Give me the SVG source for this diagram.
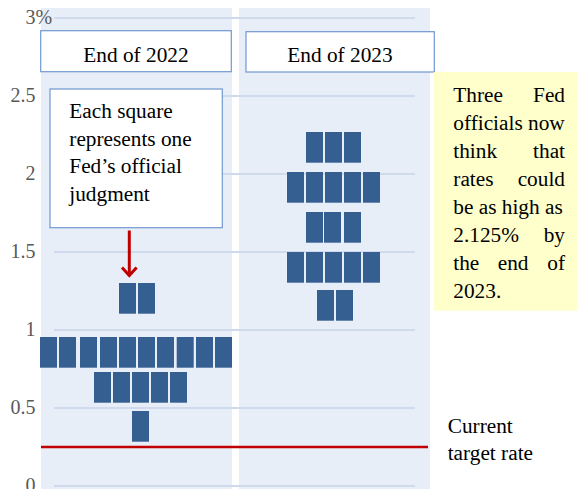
<svg xmlns="http://www.w3.org/2000/svg" width="577" height="489" viewBox="0 0 577 489">
<style>
.panel{fill:#e8eef7}
.grid{stroke:#cfdbec;stroke-width:2;fill:none}
.ax{font-family:'Liberation Serif','DejaVu Serif',serif;font-size:20px;fill:#595959;text-anchor:end}
.t{font-family:'Liberation Serif','DejaVu Serif',serif;font-size:21.3px;fill:#000}
.box{fill:#fff;stroke:#7098cf;stroke-width:1.2}
.sq{fill:#355f91}
.red{stroke:#c00000;fill:none}
</style>
<rect width="577" height="489" fill="#fff"/>
<g id="panels">
<rect class="panel" x="41" y="8" width="191" height="481"/>
<rect class="panel" x="239" y="8" width="191" height="481"/>
</g>
<g id="gridlines">
<line class="grid" x1="54" y1="18" x2="415" y2="18"/>
<line class="grid" x1="54" y1="96" x2="415" y2="96"/>
<line class="grid" x1="54" y1="174" x2="415" y2="174"/>
<line class="grid" x1="54" y1="252" x2="415" y2="252"/>
<line class="grid" x1="54" y1="330" x2="415" y2="330"/>
<line class="grid" x1="54" y1="408" x2="415" y2="408"/>
<line class="grid" x1="54" y1="486" x2="415" y2="486"/>
</g>
<g id="axis-labels" font-family="Liberation Serif, serif">
<text class="ax" x="25.5" y="24" style="text-anchor:start">3%</text>
<text class="ax" x="35.5" y="102">2.5</text>
<text class="ax" x="35.5" y="180">2</text>
<text class="ax" x="35.5" y="258">1.5</text>
<text class="ax" x="35.5" y="336">1</text>
<text class="ax" x="35.5" y="414">0.5</text>
<text class="ax" x="35.5" y="492">0</text>
</g>
<g id="header-2022">
<rect class="box" x="40.7" y="30.7" width="190.6" height="41"/>
<text class="t" x="136" y="61.5" text-anchor="middle">End of 2022</text>
</g>
<g id="header-2023">
<rect class="box" x="246" y="31.7" width="188.3" height="40.3"/>
<text class="t" x="340" y="62" text-anchor="middle">End of 2023</text>
</g>
<g id="dots-2022">
<rect class="sq" x="119" y="283" width="17" height="30.7"/>
<rect class="sq" x="138" y="283" width="17" height="30.7"/>
<rect class="sq" x="40" y="337" width="17" height="30.7"/>
<rect class="sq" x="59" y="337" width="17" height="30.7"/>
<rect class="sq" x="80" y="337" width="17" height="30.7"/>
<rect class="sq" x="100" y="337" width="17" height="30.7"/>
<rect class="sq" x="119" y="337" width="17" height="30.7"/>
<rect class="sq" x="138" y="337" width="17" height="30.7"/>
<rect class="sq" x="157" y="337" width="17" height="30.7"/>
<rect class="sq" x="176.7" y="337" width="17" height="30.7"/>
<rect class="sq" x="196" y="337" width="17" height="30.7"/>
<rect class="sq" x="215" y="337" width="17" height="30.7"/>
<rect class="sq" x="94" y="372" width="17" height="30.7"/>
<rect class="sq" x="113" y="372" width="17" height="30.7"/>
<rect class="sq" x="132" y="372" width="17" height="30.7"/>
<rect class="sq" x="151" y="372" width="17" height="30.7"/>
<rect class="sq" x="170" y="372" width="17" height="30.7"/>
<rect class="sq" x="132" y="411" width="17" height="30.7"/>
</g>
<g id="dots-2023">
<rect class="sq" x="306" y="132" width="17" height="30.7"/>
<rect class="sq" x="325" y="132" width="17" height="30.7"/>
<rect class="sq" x="344" y="132" width="17" height="30.7"/>
<rect class="sq" x="287" y="172" width="17" height="30.7"/>
<rect class="sq" x="306" y="172" width="17" height="30.7"/>
<rect class="sq" x="325" y="172" width="17" height="30.7"/>
<rect class="sq" x="344" y="172" width="17" height="30.7"/>
<rect class="sq" x="363" y="172" width="17" height="30.7"/>
<rect class="sq" x="306" y="212" width="17" height="30.7"/>
<rect class="sq" x="324" y="212" width="17" height="30.7"/>
<rect class="sq" x="344" y="212" width="17" height="30.7"/>
<rect class="sq" x="287" y="252" width="17" height="30.7"/>
<rect class="sq" x="306" y="252" width="17" height="30.7"/>
<rect class="sq" x="325" y="252" width="17" height="30.7"/>
<rect class="sq" x="344" y="252" width="17" height="30.7"/>
<rect class="sq" x="363" y="252" width="17" height="30.7"/>
<rect class="sq" x="317" y="290" width="17" height="30.7"/>
<rect class="sq" x="336" y="290" width="17" height="30.7"/>
</g>
<g id="current-rate-line">
<line class="red" x1="41" y1="447" x2="428" y2="447" stroke-width="2.6"/>
</g>
<g id="callout">
<rect class="box" x="50" y="89" width="172.3" height="138.7"/>
<text class="t" x="69.3" y="118.3">Each square</text>
<text class="t" x="69.3" y="145.8">represents one</text>
<text class="t" x="69.3" y="173.3">Fed’s official</text>
<text class="t" x="69.3" y="200.5">judgment</text>
</g>
<g id="connectors">
<line class="red" x1="129.3" y1="230.5" x2="129.3" y2="275.5" stroke-width="3"/>
<polyline class="red" points="122,267.5 129.3,275.5 136.6,267.5" stroke-width="3" stroke-linecap="butt" stroke-linejoin="miter"/>
</g>
<g id="note">
<rect x="433.7" y="72" width="143.3" height="238.7" fill="#ffffcc"/>
<text class="t" x="453.3" y="102">Three</text>
<text class="t" x="565" y="102" text-anchor="end">Fed</text>
<text class="t" x="453.3" y="130">officials now</text>
<text class="t" x="453.3" y="158">think</text>
<text class="t" x="565" y="158" text-anchor="end">that</text>
<text class="t" x="453.3" y="185.5">rates</text>
<text class="t" x="565" y="185.5" text-anchor="end">could</text>
<text class="t" x="453.3" y="213.5">be as high as</text>
<text class="t" x="453.3" y="241.5">2.125%</text>
<text class="t" x="565" y="241.5" text-anchor="end">by</text>
<text class="t" x="453.3" y="269.5">the</text>
<text class="t" x="497.7" y="269.5">end</text>
<text class="t" x="565" y="269.5" text-anchor="end">of</text>
<text class="t" x="453.3" y="297.5">2023.</text>
</g>
<g id="current-rate-label">
<text class="t" x="447.7" y="432.7">Current</text>
<text class="t" x="447.7" y="460">target rate</text>
</g>
</svg>
